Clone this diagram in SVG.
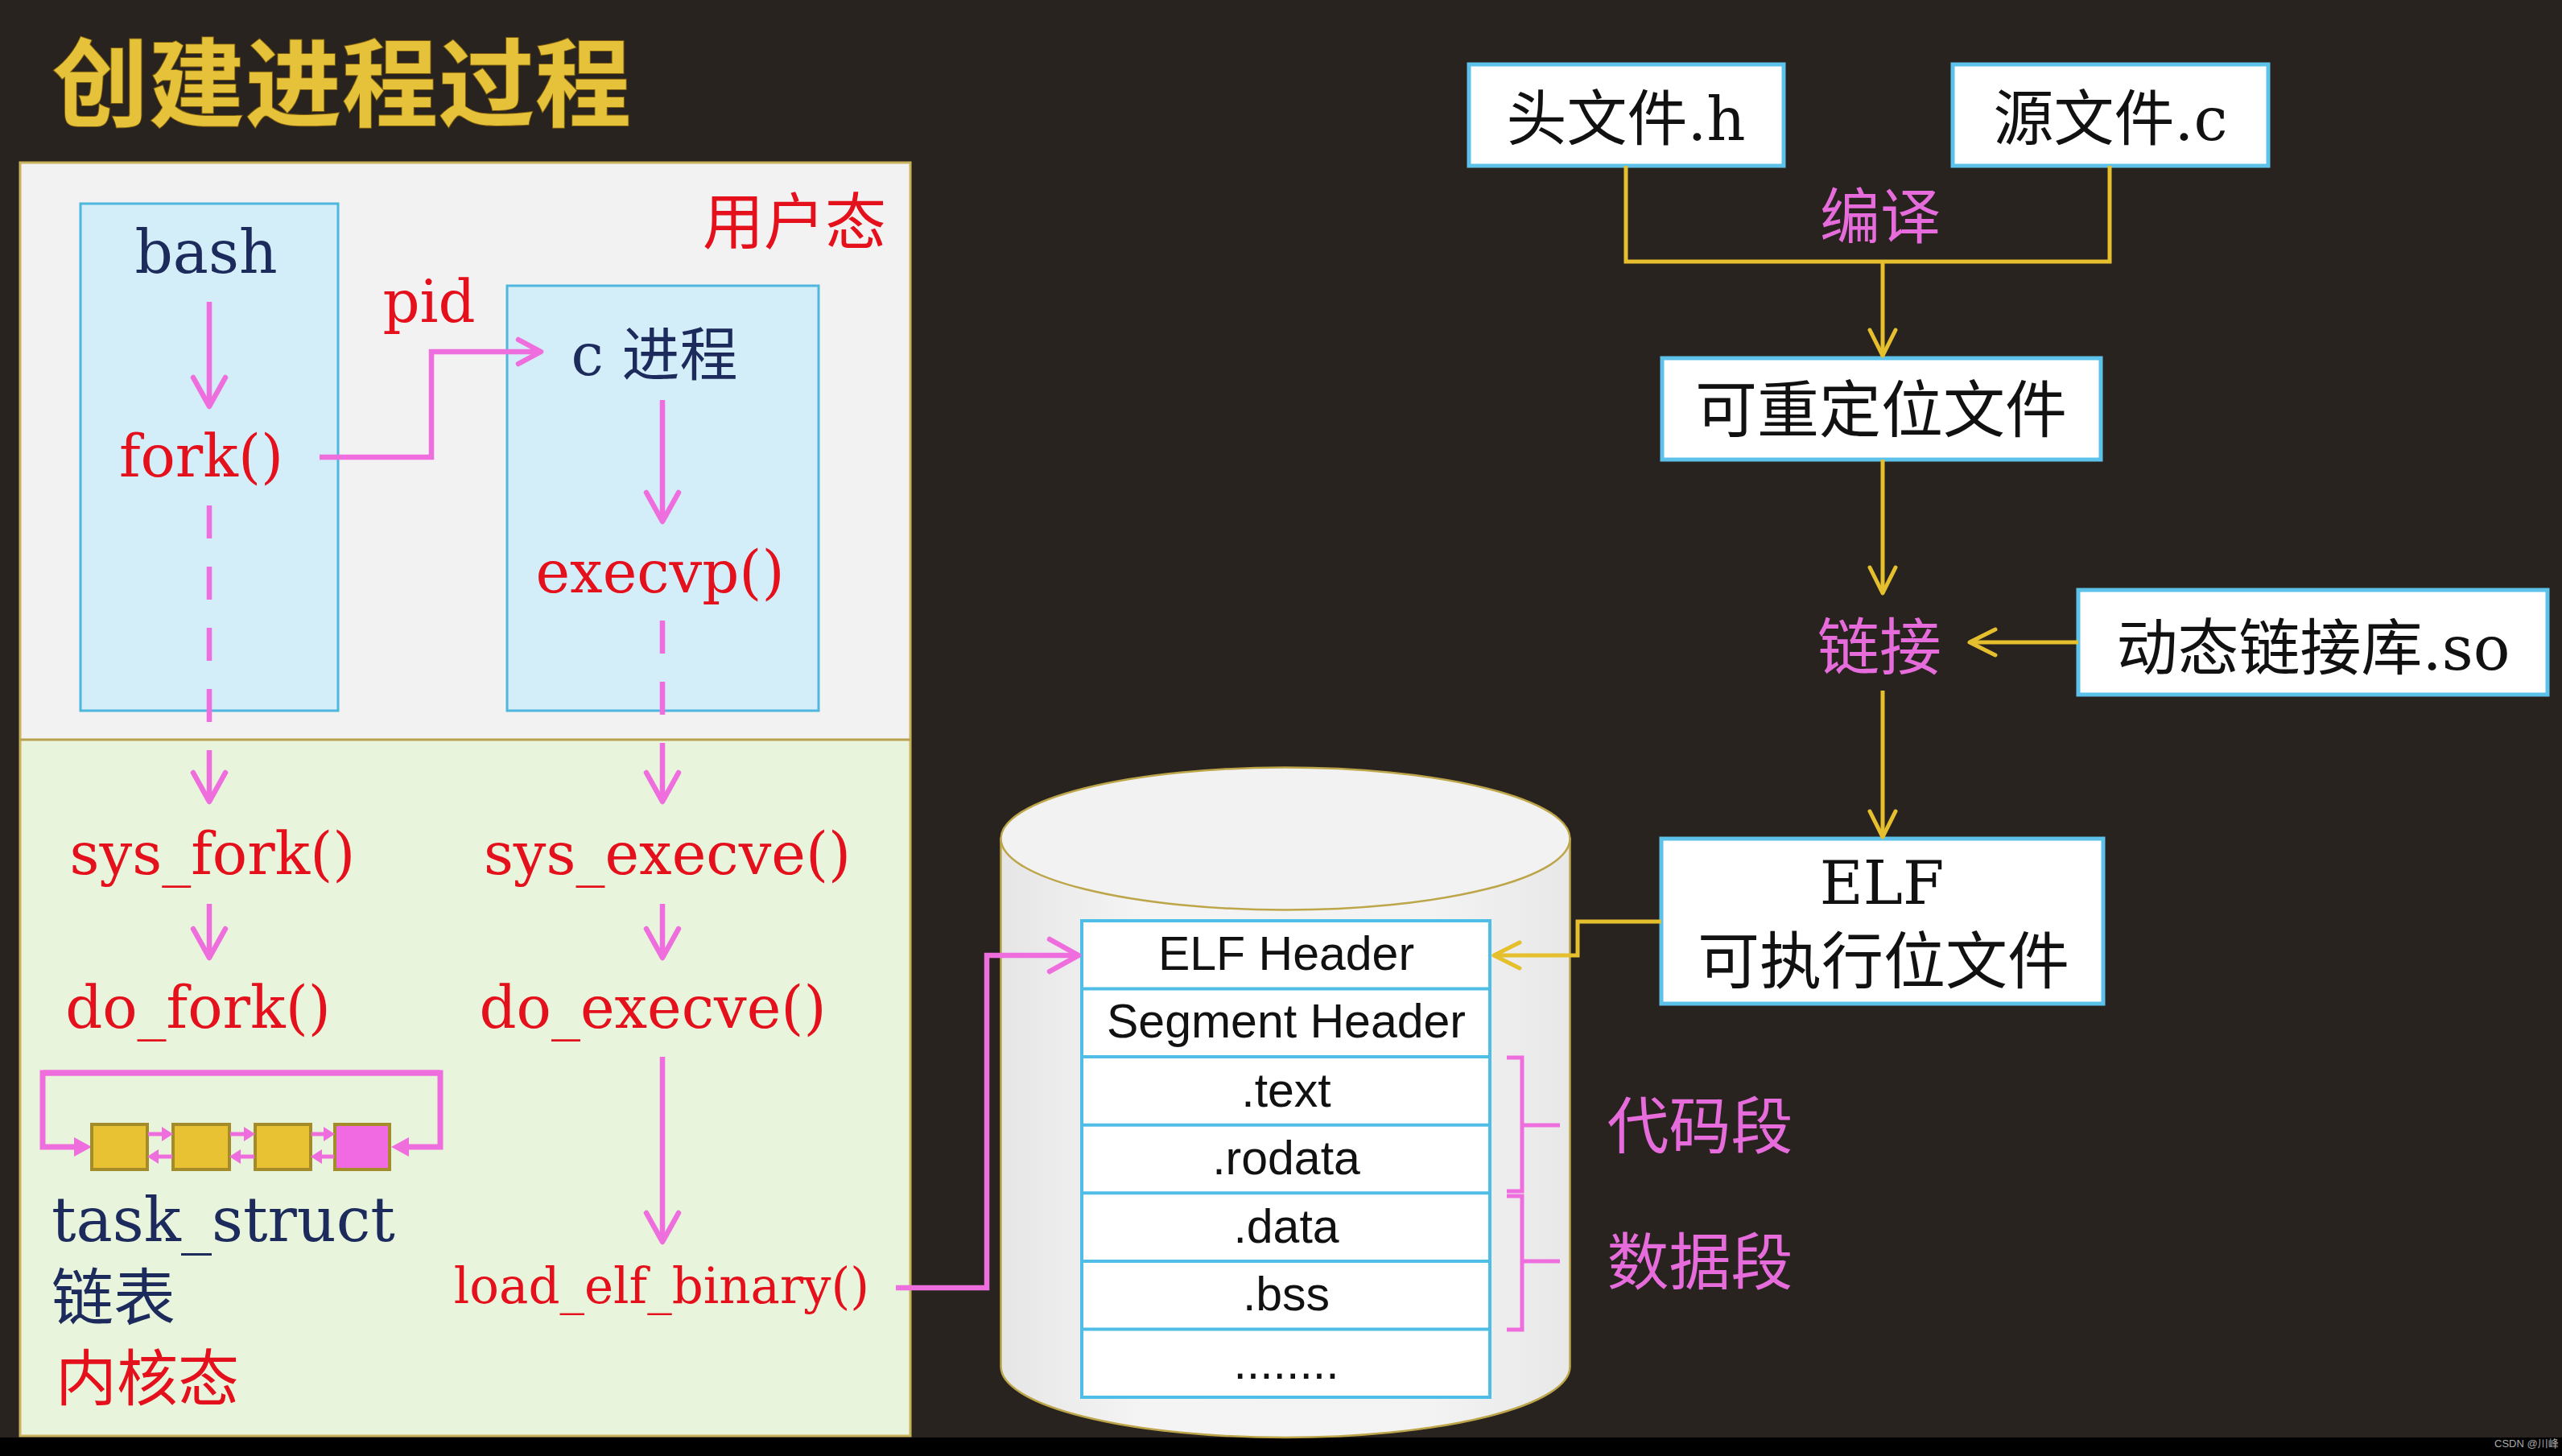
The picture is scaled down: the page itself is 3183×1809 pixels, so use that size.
<svg xmlns="http://www.w3.org/2000/svg" width="3183" height="1809" viewBox="0 0 3183 1809">
<style>
.ser{font-family:"DejaVu Serif","Noto Sans CJK SC",serif;}
.cjk{font-family:"Noto Sans CJK SC",sans-serif;}
.sans{font-family:"Liberation Sans","Noto Sans CJK SC",sans-serif;}
.red{fill:#e4101c;}
.navy{fill:#1c2a5c;}
.pinkt{fill:#e66cdc;}
.blk{fill:#111;}
.fn{font-size:72px;}
.mid{text-anchor:middle;}
.wbox{fill:#ffffff;stroke:#5cc2ea;stroke-width:5;}
.bbox{fill:#d4eef9;stroke:#4fb6de;stroke-width:3;}
.pl{fill:none;stroke:#ef6edd;stroke-width:6.5;stroke-linejoin:miter;}
.dash{stroke-dasharray:41 35;}
.yl{fill:none;stroke:#e6bf2e;stroke-width:5;}
.lst{fill:none;stroke:#ef6edd;stroke-width:7;}
.lsm{fill:none;stroke:#ef6edd;stroke-width:5;}
.node{fill:#e8c232;stroke:#a48c2a;stroke-width:4;}
.row{stroke:#4fbde6;stroke-width:4;}
.tb{font-size:59px;text-anchor:middle;}
</style>
<defs>
<marker id="pkv" markerUnits="userSpaceOnUse" viewBox="-44 -26 50 52" markerWidth="50" markerHeight="52" refX="0" refY="0" orient="auto" overflow="visible">
<path d="M-36,-20 L0,0 L-36,20" fill="none" stroke="#ef6edd" stroke-width="6.5" stroke-linecap="round" stroke-linejoin="round" stroke-dasharray="none"/>
</marker>
<marker id="pks" markerUnits="userSpaceOnUse" viewBox="-34 -20 40 40" markerWidth="40" markerHeight="40" refX="0" refY="0" orient="auto" overflow="visible">
<path d="M-28,-15 L0,0 L-28,15" fill="none" stroke="#ef6edd" stroke-width="6.5" stroke-linecap="round" stroke-linejoin="round"/>
</marker>
<marker id="ylv" markerUnits="userSpaceOnUse" viewBox="-38 -20 44 40" markerWidth="44" markerHeight="40" refX="0" refY="0" orient="auto" overflow="visible">
<path d="M-32,-16 L0,0 L-32,16" fill="none" stroke="#e6bf2e" stroke-width="5" stroke-linecap="round" stroke-linejoin="round"/>
</marker>
<marker id="pkf" markerUnits="userSpaceOnUse" viewBox="0 -12 22 24" markerWidth="22" markerHeight="24" refX="2" refY="0" orient="auto" overflow="visible">
<path d="M0,-12 L22,0 L0,12 Z" fill="#ef6edd"/>
</marker>
<marker id="pkfs" markerUnits="userSpaceOnUse" viewBox="0 -9 14 18" markerWidth="14" markerHeight="18" refX="2" refY="0" orient="auto" overflow="visible">
<path d="M0,-9 L14,0 L0,9 Z" fill="#ef6edd"/>
</marker>
<linearGradient id="cyl" x1="0" y1="0" x2="1" y2="0">
<stop offset="0" stop-color="#e6e6e6"/>
<stop offset="0.25" stop-color="#f4f4f4"/>
<stop offset="0.75" stop-color="#f3f3f3"/>
<stop offset="1" stop-color="#e8e8e8"/>
</linearGradient>
</defs>

<rect x="0" y="0" width="3183" height="1809" fill="#28231f"/>
<rect x="0" y="1786" width="3183" height="23" fill="#000"/>
<text x="3099" y="1798" class="sans" font-size="13" fill="#aaaaaa">CSDN @川峰</text>

<g id="title">
<text x="65" y="148" class="cjk" font-size="119" font-weight="700" letter-spacing="1" fill="#e6c23a" stroke="#7a5c10" stroke-width="2" paint-order="stroke">创建进程过程</text>
</g>

<g id="panel">
<rect x="25" y="202" width="1106" height="717" fill="#f3f2f2"/>
<rect x="25" y="919" width="1106" height="865" fill="#e8f5dc"/>
<rect x="25" y="202" width="1106" height="1582" fill="none" stroke="#c9b25a" stroke-width="3"/>
<line x1="25" y1="919" x2="1131" y2="919" stroke="#b9a24e" stroke-width="3"/>
<text x="987" y="303" class="cjk red" font-size="76" text-anchor="middle">用户态</text>
<text x="69" y="1740" class="cjk red" font-size="76">内核态</text>
</g>

<g id="bash">
<rect x="100" y="253" width="320" height="630" class="bbox"/>
<text x="256" y="339" class="ser navy mid" font-size="74">bash</text>
</g>
<g id="fork">
<text x="250" y="592" class="ser red fn mid">fork()</text>
</g>
<g id="cproc">
<rect x="630" y="355" width="387" height="528" class="bbox"/>
<text x="813" y="466" class="ser navy fn mid">c 进程</text>
</g>
<g id="execvp">
<text x="820" y="736" class="ser red fn mid">execvp()</text>
</g>
<g id="pid-label">
<text x="533" y="400" class="ser red fn mid">pid</text>
</g>
<g id="sys_fork"><text x="264" y="1086" class="ser red fn mid">sys_fork()</text></g>
<g id="sys_execve"><text x="829" y="1086" class="ser red fn mid">sys_execve()</text></g>
<g id="do_fork"><text x="246" y="1277" class="ser red fn mid">do_fork()</text></g>
<g id="do_execve"><text x="811" y="1277" class="ser red fn mid">do_execve()</text></g>
<g id="load_elf_binary"><text x="822" y="1619" class="ser red mid" font-size="61">load_elf_binary()</text></g>

<g id="task_list">
<path class="lst" d="M547,1333 L53,1333 L53,1425 L94,1425" marker-end="url(#pkf)"/>
<path class="lst" d="M53,1333 L547,1333 L547,1425 L506,1425" marker-end="url(#pkf)"/>
<rect x="114" y="1397" width="69" height="56" class="node"/>
<rect x="215" y="1397" width="70" height="56" class="node"/>
<rect x="317" y="1397" width="69" height="56" class="node"/>
<rect x="416" y="1397" width="68" height="56" class="node" style="fill:#f26ae2"/>
<path class="lsm" d="M184,1409 L203,1409" marker-end="url(#pkfs)"/>
<path class="lsm" d="M214,1437 L195,1437" marker-end="url(#pkfs)"/>
<path class="lsm" d="M286,1409 L305,1409" marker-end="url(#pkfs)"/>
<path class="lsm" d="M316,1437 L297,1437" marker-end="url(#pkfs)"/>
<path class="lsm" d="M387,1409 L404,1409" marker-end="url(#pkfs)"/>
<path class="lsm" d="M415,1437 L398,1437" marker-end="url(#pkfs)"/>
<text x="64" y="1542" class="ser navy" font-size="76">task_struct</text>
<text x="64" y="1640" class="cjk navy" font-size="77">链表</text>
</g>

<g id="disk">
<path d="M1243.5,1042 L1243.5,1698 A353.5,88 0 0 0 1950.5,1698 L1950.5,1042 Z" fill="url(#cyl)" stroke="#bda64a" stroke-width="2.5"/>
<ellipse cx="1597" cy="1042" rx="353.5" ry="88.5" fill="#f2f2f2" stroke="#bda64a" stroke-width="2.5"/>
<rect x="1344" y="1144" width="507" height="592" fill="#fff" stroke="#4fbde6" stroke-width="4"/>
<line class="row" x1="1344" y1="1228.6" x2="1851" y2="1228.6"/>
<line class="row" x1="1344" y1="1313.1" x2="1851" y2="1313.1"/>
<line class="row" x1="1344" y1="1397.7" x2="1851" y2="1397.7"/>
<line class="row" x1="1344" y1="1482.3" x2="1851" y2="1482.3"/>
<line class="row" x1="1344" y1="1566.9" x2="1851" y2="1566.9"/>
<line class="row" x1="1344" y1="1651.4" x2="1851" y2="1651.4"/>
<text x="1598" y="1205" class="sans blk tb">ELF Header</text>
<text x="1598" y="1289" class="sans blk tb">Segment Header</text>
<text x="1598" y="1375" class="sans blk tb">.text</text>
<text x="1598" y="1459" class="sans blk tb">.rodata</text>
<text x="1598" y="1544" class="sans blk tb">.data</text>
<text x="1598" y="1628" class="sans blk tb">.bss</text>
<text x="1598" y="1713" class="sans blk tb">........</text>
</g>

<g id="segments">
<path d="M1872,1314 H1891 V1480 H1872 M1891,1398 H1938" fill="none" stroke="#ef6edd" stroke-width="5"/>
<path d="M1872,1486 H1891 V1652 H1872 M1891,1567 H1938" fill="none" stroke="#ef6edd" stroke-width="5"/>
<text x="2112" y="1427" class="cjk pinkt mid" font-size="77">代码段</text>
<text x="2112" y="1596" class="cjk pinkt mid" font-size="77">数据段</text>
</g>

<g id="header_h">
<rect x="1825" y="80" width="391" height="126" class="wbox"/>
<text x="2020" y="174" class="ser blk mid" font-size="75">头文件.h</text>
</g>
<g id="source_c">
<rect x="2426" y="80" width="392" height="126" class="wbox"/>
<text x="2622" y="174" class="ser blk mid" font-size="75">源文件.c</text>
</g>
<g id="compile-label">
<text x="2336" y="296" class="cjk pinkt mid" font-size="75">编译</text>
</g>
<g id="relocatable">
<rect x="2065" y="445" width="545" height="126" class="wbox"/>
<text x="2337" y="537" class="cjk blk mid" font-size="77">可重定位文件</text>
</g>
<g id="link-label">
<text x="2335" y="832" class="cjk pinkt mid" font-size="77">链接</text>
</g>
<g id="dynlib">
<rect x="2582" y="733" width="583" height="130" class="wbox"/>
<text x="2874" y="832" class="ser blk mid" font-size="76">动态链接库.so</text>
</g>
<g id="elf_exec">
<rect x="2064" y="1042" width="549" height="205" class="wbox"/>
<text x="2338" y="1123" class="ser blk mid" font-size="74">ELF</text>
<text x="2340" y="1222" class="cjk blk mid" font-size="77">可执行位文件</text>
</g>

<g id="connectors">
<path class="pl" d="M260,375 V505" marker-end="url(#pkv)"/>
<path class="pl" d="M397,568 H536 V437 H672" marker-end="url(#pks)"/>
<path class="pl" d="M823,497 V648" marker-end="url(#pkv)"/>
<path class="pl dash" d="M260,628 V960"/>
<path class="pl" d="M260,960 V996" marker-end="url(#pkv)"/>
<path class="pl dash" d="M823,771 V960"/>
<path class="pl" d="M823,960 V996" marker-end="url(#pkv)"/>
<path class="pl" d="M260,1123 V1190" marker-end="url(#pkv)"/>
<path class="pl" d="M823,1123 V1190" marker-end="url(#pkv)"/>
<path class="pl" d="M823,1313 V1543" marker-end="url(#pkv)"/>
<path class="pl" d="M1113,1600 H1226 V1187 H1340" marker-end="url(#pkv)"/>
<path class="yl" d="M2020,206 V325 H2621 V206"/>
<path class="yl" d="M2339,325 V442" marker-end="url(#ylv)"/>
<path class="yl" d="M2339,571 V737" marker-end="url(#ylv)"/>
<path class="yl" d="M2582,798 H2447" marker-end="url(#ylv)"/>
<path class="yl" d="M2339,858 V1040" marker-end="url(#ylv)"/>
<path class="yl" d="M2064,1145 H1960 V1187 H1856" marker-end="url(#ylv)"/>
</g>
</svg>
